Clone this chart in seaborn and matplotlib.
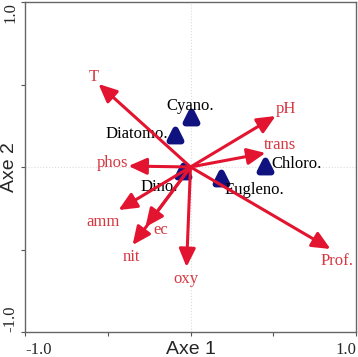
import numpy as np
import pandas as pd
import matplotlib
matplotlib.use("Agg")
import matplotlib.pyplot as plt
import seaborn as sns

# variables environnementales (fleches de l'ACP)
variables = ["T", "pH", "trans", "phos", "amm", "ec", "nit", "oxy", "Prof."]
var_x = [-0.556, 0.514, 0.453, -0.375, -0.435, -0.272, -0.350, -0.024, 0.846]
var_y = [0.503, 0.309, 0.085, 0.006, -0.261, -0.364, -0.473, -0.606, -0.497]

# groupes d'algues (points)
especes = ["Cyano.", "Diatomo.", "Dino.", "Chloro.", "Eugleno."]
esp_x = [0.000, -0.091, -0.048, 0.453, 0.187]
esp_y = [0.303, 0.194, -0.024, 0.006, -0.067]

ticks = [-1.0, -0.5, 0.0, 0.5, 1.0]
tick_labels = ["-1.0", "", "", "", "1.0"]

df_var = pd.DataFrame({"nom": variables, "x": var_x, "y": var_y})
df_esp = pd.DataFrame({"nom": especes, "x": esp_x, "y": esp_y})

# decalage des etiquettes (points)
var_off = {"T": (-3.6, 5.4), "pH": (7.2, 4.7), "trans": (10.8, 6.1),
           "phos": (-11.5, 2.5), "amm": (-10.8, -8.6), "ec": (10.8, -1.8),
           "nit": (-0.7, -8.3), "oxy": (-0.7, -8.3), "Prof.": (5.0, -8.3)}
esp_off = {"Cyano.": (0, 8.2, "center"), "Diatomo.": (-5.5, 0.4, "right"),
           "Dino.": (-3, -11.9, "right"), "Chloro.": (4, 1.8, "left"),
           "Eugleno.": (2.2, -8.6, "left")}

sns.set_theme(style="white")
plt.rcParams["font.family"] = ["Liberation Serif", "DejaVu Serif"]

ROUGE = "#e3142f"
ROUGE_TXT = "#d63842"
BLEU = "#101280"

fig = plt.figure(figsize=(3.58, 3.57), dpi=100)
ax = fig.add_axes([25 / 358, 1 - 332 / 357, 331 / 358, 330 / 357])

ax.axhline(0, color="#dcdcdc", lw=0.8, ls=":", zorder=0)
ax.axvline(0, color="#dcdcdc", lw=0.8, ls=":", zorder=0)

sns.scatterplot(data=df_esp, x="x", y="y", marker="^", s=70, color=BLEU,
                edgecolor=BLEU, linewidth=4.5, joinstyle="round", ax=ax,
                zorder=2, legend=False)
for _, r in df_esp.iterrows():
    dx, dy, ha = esp_off[r["nom"]]
    ax.annotate(r["nom"], (r["x"], r["y"]), xytext=(dx, dy),
                textcoords="offset points", ha=ha, va="center",
                fontsize=12, color="black", zorder=3)

for _, r in df_var.iterrows():
    ax.annotate("", xy=(r["x"], r["y"]), xytext=(0, 0),
                arrowprops=dict(arrowstyle="-|>,head_length=1.1,head_width=0.5",
                                mutation_scale=10, lw=2.2, color=ROUGE,
                                shrinkA=0, shrinkB=0), zorder=4)
    dx, dy = var_off[r["nom"]]
    ax.annotate(r["nom"], (r["x"], r["y"]), xytext=(dx, dy),
                textcoords="offset points", ha="center", va="center",
                fontsize=12, color=ROUGE_TXT, zorder=5)

ax.set_xlim(-1, 1)
ax.set_ylim(-1, 1)
ax.set_xticks(ticks)
ax.set_yticks(ticks)
ax.set_xticklabels(tick_labels, fontsize=12)
ax.set_yticklabels(tick_labels, fontsize=12, rotation=90)
ax.tick_params(axis="both", direction="out", length=3, width=0.8,
               color="#555555", bottom=True, left=True)
ax.tick_params(axis="x", pad=4)
ax.tick_params(axis="y", pad=2)
xl = ax.get_xticklabels()
xl[0].set_ha("left")
xl[-1].set_ha("right")
yl = ax.get_yticklabels()
yl[0].set_va("bottom")
yl[-1].set_va("top")

for s in ax.spines.values():
    s.set_color("#666666")
    s.set_linewidth(1)

ax.set_xlabel("Axe 1", fontsize=14, family=["Liberation Sans", "DejaVu Sans"])
ax.set_ylabel("Axe 2", fontsize=14, family=["Liberation Sans", "DejaVu Sans"])
ax.xaxis.set_label_coords(0.5, -0.027)
ax.xaxis.label.set_va("top")
ax.yaxis.set_label_coords(-0.021, 0.5)

fig.savefig("out.png", dpi=100)
